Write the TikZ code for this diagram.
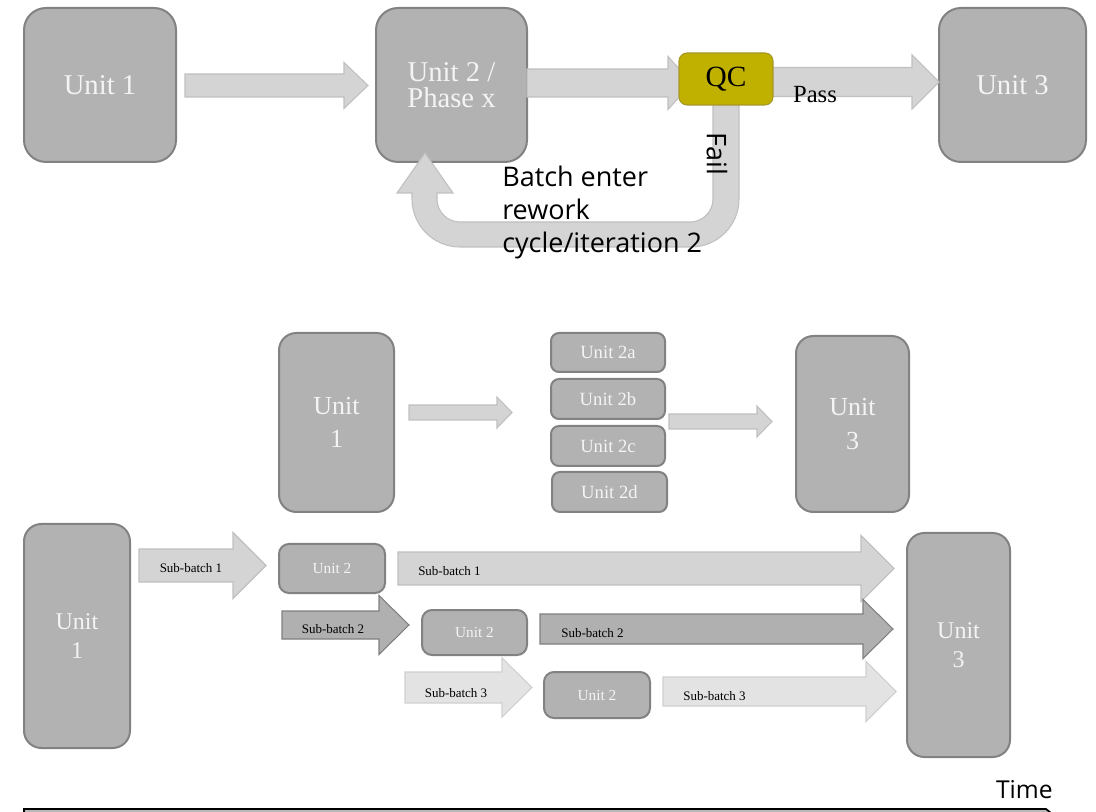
\documentclass[tikz,border=0pt]{standalone}
\usepackage{fontspec}
\setmainfont{Liberation Serif}
\newfontfamily\sansf{Open Sans}
\definecolor{boxfill}{RGB}{178,178,178}
\definecolor{boxline}{RGB}{130,130,130}
\definecolor{boxtext}{RGB}{244,244,244}
\definecolor{arrfill}{RGB}{212,212,212}
\definecolor{arrline}{RGB}{192,192,192}
\definecolor{darkfill}{RGB}{176,176,176}
\definecolor{darkline}{RGB}{128,128,128}
\definecolor{lightfill}{RGB}{227,227,227}
\definecolor{lightline}{RGB}{208,208,208}
\definecolor{qcfill}{RGB}{192,176,0}
\definecolor{qcline}{RGB}{165,152,40}
% block arrow: [style]{x body start}{x head start}{x tip}{y centre}{half body}{half head}
\newcommand{\barrow}[7][]{%
  \draw[#1] (#2,#5-#6) -- (#3,#5-#6) -- (#3,#5-#7) -- (#4,#5) -- (#3,#5+#7) -- (#3,#5+#6) -- (#2,#5+#6) -- cycle;}
\begin{document}
\begin{tikzpicture}[x=0.75pt,y=-0.75pt,
  unit/.style={draw=boxline, fill=boxfill, line width=1.5pt, text=boxtext, inner sep=0pt, align=center},
  bigunit/.style={unit, rounded corners=16.5pt, font=\fontsize{21.5}{20}\selectfont},
  midunit/.style={unit, rounded corners=13pt, font=\fontsize{19.5}{25}\selectfont},
  lowunit/.style={unit, rounded corners=13pt, font=\fontsize{18}{22}\selectfont},
  subunit/.style={unit, rounded corners=6pt, font=\fontsize{14}{15}\selectfont},
  smallunit/.style={unit, rounded corners=7.5pt, font=\fontsize{11.5}{13}\selectfont},
  qcbox/.style={draw=qcline, fill=qcfill, line width=0.8pt, rounded corners=6pt, inner sep=0pt, font=\fontsize{22}{24}\selectfont},
  plainarrow/.style={draw=arrline, fill=arrfill, line width=0.8pt},
  darkarrow/.style={draw=darkline, fill=darkfill, line width=0.8pt},
  lightarrow/.style={draw=lightline, fill=lightfill, line width=0.8pt},
  sblabel/.style={font=\fontsize{9.75}{11}\selectfont, inner sep=0pt},
  sanslabel/.style={font=\sansf\fontsize{20.25}{25}\selectfont, inner sep=0pt}
]
\useasboundingbox (0,0) rectangle (1096,812);

% ---------------- top row ----------------
\node[bigunit, minimum width=114pt, minimum height=115.5pt] (t1) at (100,85) {Unit 1};
\node[bigunit, minimum width=113.25pt, minimum height=115.5pt] (t2) at (451.5,85) {Unit 2 /\\Phase x};
\node[bigunit, minimum width=110.25pt, minimum height=115.5pt] (t3) at (1012.5,85) {Unit 3};

\barrow[plainarrow]{185}{344}{368}{85.5}{11.5}{23}
\barrow[plainarrow]{527}{668}{692}{83}{14}{26.5}
\barrow[plainarrow]{760}{912}{939}{82}{14.5}{27}

% rework U-turn arrow
\draw[plainarrow] (713,100) -- (739,100) -- (739,199)
  .. controls (739,225.5) and (717.5,247) .. (691,247) -- (460,247)
  .. controls (433.5,247) and (412,225.5) .. (412,199) -- (412,193)
  -- (397,193) -- (425,153) -- (453,193) -- (437,193) -- (437,199)
  .. controls (437,211.7) and (447.3,222) .. (460,222) -- (690,222)
  .. controls (702.7,222) and (713,211.7) .. (713,199) -- cycle;

\node[qcbox, minimum width=70.5pt, minimum height=39pt] (qc) at (726,79) {\raisebox{-3.5pt}{QC}};
\node[font=\fontsize{18.5}{20}\selectfont, inner sep=0pt] (pass) at (815,95) {Pass};
\node[sanslabel, rotate=-90] (fail) at (717,154) {Fail};
\node[sanslabel, anchor=base west, align=left] (rework) at (502,253)
  {Batch enter\\rework\\cycle/iteration 2};

% ---------------- middle row ----------------
\node[midunit, minimum width=86.25pt, minimum height=134.25pt] (m1) at (336.5,422.5) {Unit\\1};
\node[subunit, minimum width=85.5pt, minimum height=29.25pt] (m2a) at (608,352.5) {Unit 2a};
\node[subunit, minimum width=85.5pt, minimum height=30pt] (m2b) at (608,399) {Unit 2b};
\node[subunit, minimum width=85.5pt, minimum height=30pt] (m2c) at (608,446) {Unit 2c};
\node[subunit, minimum width=86.25pt, minimum height=30pt] (m2d) at (609.5,492) {Unit 2d};
\node[midunit, minimum width=84.75pt, minimum height=132pt] (m3) at (852.5,424) {Unit\\3};
\barrow[plainarrow]{409}{497}{512}{412.5}{7.5}{15.5}
\barrow[plainarrow]{669}{757}{772}{421.5}{7.5}{15.5}

% ---------------- bottom row ----------------
\node[lowunit, minimum width=79.5pt, minimum height=168pt] (b1) at (77,636) {Unit\\1};
\node[lowunit, minimum width=77.25pt, minimum height=168pt] (b3) at (958.5,645) {Unit\\3};

\barrow[plainarrow]{139}{233}{266}{565.5}{16.5}{33}
\node[sblabel] (s1a) at (191,568) {Sub-batch 1};
\barrow[plainarrow]{398}{861}{894}{568.5}{16.5}{33}
\node[sblabel, anchor=west] (s1b) at (418,571) {Sub-batch 1};

\barrow[darkarrow]{282}{379}{409}{625}{14}{29.5}
\node[sblabel] (s2a) at (333,629) {Sub-batch 2};
\barrow[darkarrow]{540}{863}{893}{629}{15}{29.5}
\node[sblabel, anchor=west] (s2b) at (561,633) {Sub-batch 2};

\barrow[lightarrow]{405}{502}{532}{687.5}{15.5}{29.5}
\node[sblabel] (s3a) at (456,693) {Sub-batch 3};
\barrow[lightarrow]{663}{866}{896}{691.5}{14.5}{30}
\node[sblabel, anchor=west] (s3b) at (683,696) {Sub-batch 3};

\node[smallunit, minimum width=79.5pt, minimum height=36.75pt] (b2a) at (332,568.5) {Unit 2};
\node[smallunit, minimum width=78.75pt, minimum height=33.75pt] (b2b) at (474.5,632.5) {Unit 2};
\node[smallunit, minimum width=79.5pt, minimum height=34.5pt] (b2c) at (597,695) {Unit 2};

% ---------------- time axis ----------------
\coordinate (tstart) at (24,809);
\coordinate (tend) at (1046,809);
\draw[black, line width=1.3pt, fill=gray!55] (24,824) -- (tstart) -- (tend) -- (1051,813) -- (1051,824);
\node[font=\sansf\fontsize{18.5}{20}\selectfont, inner sep=0pt, anchor=base east] (time) at (1053,798) {Time};
\end{tikzpicture}
\end{document}
